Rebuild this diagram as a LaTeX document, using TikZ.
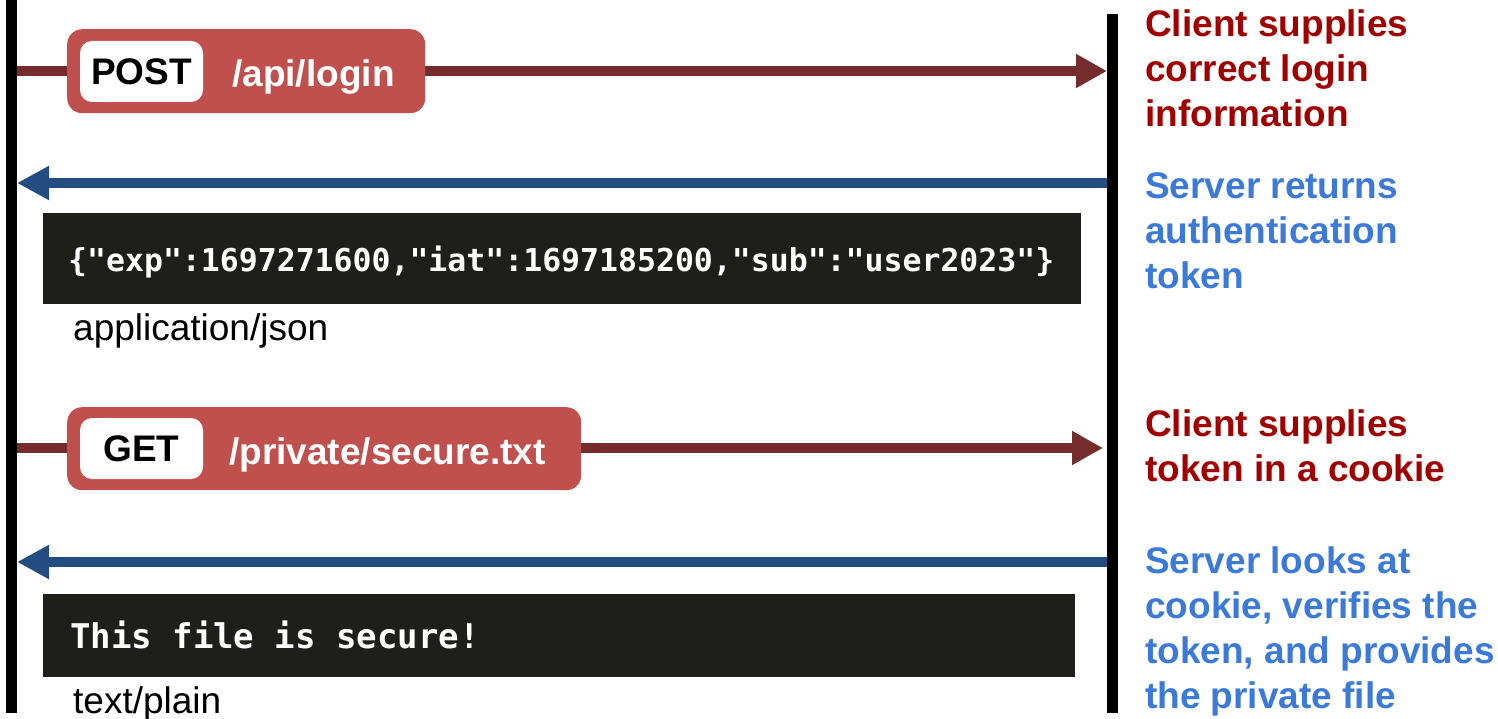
\documentclass[tikz,border=0pt]{standalone}
\usepackage{fontspec}
\setmainfont{Liberation Sans}
\setmonofont{DejaVu Sans Mono}
\usetikzlibrary{arrows.meta}

\definecolor{boxred}{HTML}{C0504D}
\definecolor{shaftred}{HTML}{742D2C}
\definecolor{shaftblue}{HTML}{234D80}
\definecolor{notered}{HTML}{A00000}
\definecolor{noteblue}{HTML}{3C7AD9}
\definecolor{codebg}{HTML}{1E1E1A}

\begin{document}
\begin{tikzpicture}[x=1pt, y=-1pt,
    lifeline/.style={line width=11pt},
    request/.style={line width=10pt, draw=shaftred, -{Triangle[length=31pt,width=32pt]}},
    response/.style={line width=10pt, draw=shaftblue, -{Triangle[length=32pt,width=32pt]}},
    reqbox/.style={fill=boxred, rounded corners=15pt, inner sep=0, anchor=north west},
    verbbox/.style={fill=white, rounded corners=12pt, inner sep=0, minimum width=123pt, minimum height=61pt,
        font=\bfseries\fontsize{37}{45}\selectfont},
    pathlabel/.style={text=white, inner sep=0, anchor=base west, font=\bfseries\fontsize{37}{45}\selectfont},
    codeblock/.style={fill=codebg, inner sep=0, anchor=north west},
    codetext/.style={text=white, inner sep=0, anchor=base west},
    mimetype/.style={inner sep=0, anchor=base west, font=\fontsize{37}{45}\selectfont},
    note/.style={inner sep=0, anchor=base west, align=left, font=\bfseries\fontsize{37}{45}\selectfont}]
    \useasboundingbox (0,0) rectangle (1498,719);

    % client and server lifelines
    \draw [lifeline] (11.5,0) -- (11.5,713) ;
    \draw [lifeline] (1112.5,14) -- (1112.5,713) ;

    \coordinate (cpost) at (17,71) ;   \coordinate (spost) at (1107,71) ;
    \coordinate (ctok) at (17,183) ;   \coordinate (stok) at (1107,183) ;
    \coordinate (cget) at (17,448) ;   \coordinate (sget) at (1103,448) ;
    \coordinate (cfile) at (17,562) ;  \coordinate (sfile) at (1107,562) ;

    % login request
    \draw [request] (cpost) -- (spost) ;
    \node [reqbox, minimum width=358pt, minimum height=84pt] (postreq) at (67,29) {} ;
    \node [verbbox] (postverb) at (141.5,71.5) {POST} ;
    \node [pathlabel] (postpath) at (232,87) {/api/login} ;

    % token comes back
    \draw [response] (stok) -- (ctok) ;
    \node [codeblock, minimum width=1038pt, minimum height=91pt] (json) at (43,213) {} ;
    \node [codetext, font=\ttfamily\bfseries\fontsize{31.5}{40}\selectfont] (jsontext) at (68,272)
        {\{"exp":1697271600,"iat":1697185200,"sub":"user2023"\}} ;
    \node [mimetype] (jsontype) at (73,340) {application/json} ;

    % request with the cookie
    \draw [request] (cget) -- (sget) ;
    \node [reqbox, minimum width=514pt, minimum height=83pt] (getreq) at (67,407) {} ;
    \node [verbbox] (getverb) at (141.5,448.5) {GET} ;
    \node [pathlabel] (getpath) at (229,464) {/private/secure.txt} ;

    % private file comes back
    \draw [response] (sfile) -- (cfile) ;
    \node [codeblock, minimum width=1032pt, minimum height=83pt] (plain) at (43,594) {} ;
    \node [codetext, font=\ttfamily\bfseries\fontsize{34}{40}\selectfont] (plaintext) at (70,648)
        {This file is secure!} ;
    \node [mimetype] (plaintype) at (73,713) {text/plain} ;

    % notes beside the server (base sits on the last line)
    \node [note, text=notered] (note1) at (1145,127) {Client supplies\\correct login\\information} ;
    \node [note, text=noteblue] (note2) at (1145,288) {Server returns\\authentication\\token} ;
    \node [note, text=notered] (note3) at (1145,481) {Client supplies\\token in a cookie} ;
    \node [note, text=noteblue] (note4) at (1145,708) {Server looks at\\cookie, verifies the\\token, and provides\\the private file} ;
\end{tikzpicture}
\end{document}
